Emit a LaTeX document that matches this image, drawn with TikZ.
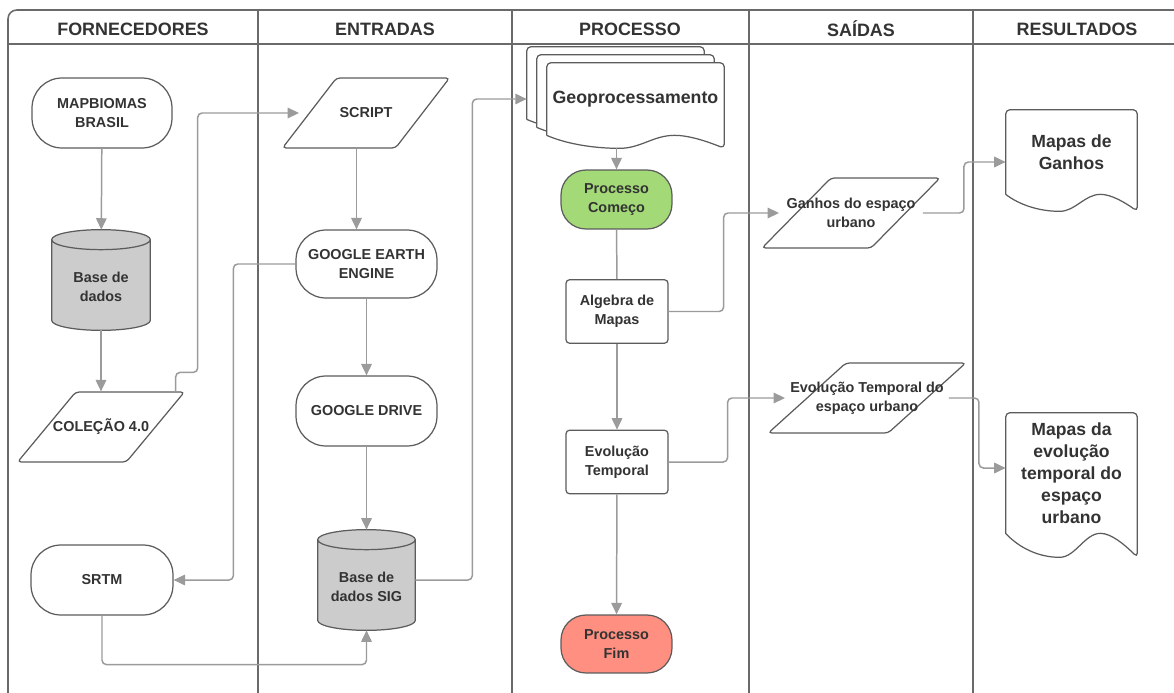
\documentclass[tikz,border=0pt]{standalone}
\usepackage{fontspec}
\setmainfont{Liberation Sans}
\usetikzlibrary{arrows.meta,positioning,shapes.geometric,calc}

\definecolor{lanegray}{HTML}{6A6A6A}
\definecolor{edgegray}{HTML}{5C5C5C}
\definecolor{flowgray}{HTML}{9B9B9B}
\definecolor{txtgray}{HTML}{333333}
\definecolor{dbfill}{HTML}{CCCCCC}
\definecolor{startgreen}{HTML}{A3D977}
\definecolor{endred}{HTML}{FF8F80}

\pgfdeclarelayer{lanes}
\pgfdeclarelayer{frames}
\pgfsetlayers{lanes,frames,main}

\newcommand{\nodefont}{\fontsize{8.2}{10.8}\selectfont\bfseries}
\newcommand{\midtext}[1]{\makebox[0pt]{#1}}
\newcommand{\lowline}[1]{\raisebox{-4pt}[\height][\depth]{#1}}

% document outline with wavy bottom: node, xshift, yshift, wave depth
\newcommand{\docframe}[4]{%
  \draw[shapeline, fill=white, rounded corners=2.5pt]
    let \p1=([xshift=#2,yshift=#3]#1.south west),
        \p2=([xshift=#2,yshift=#3]#1.north east) in
    (\x1,\y1) -- (\x1,\y2) -- (\x2,\y2) -- (\x2,{\y1-#4}) [sharp corners]
    .. controls ({\x2-0.1*(\x2-\x1)},{\y1-0.45*#4}) and ({\x1+0.8*(\x2-\x1)},\y1) .. ({\x1+0.72*(\x2-\x1)},\y1)
    .. controls ({\x1+0.6*(\x2-\x1)},\y1) and ({\x1+0.53*(\x2-\x1)},{\y1-#4}) .. ({\x1+0.41*(\x2-\x1)},{\y1-#4})
    .. controls ({\x1+0.25*(\x2-\x1)},{\y1-#4}) and ({\x1+0.1*(\x2-\x1)},{\y1-0.6*#4}) .. (\x1,\y1);}

% database outline around a node
\newcommand{\cylframe}[1]{%
  \draw[shapeline, fill=dbfill]
    let \p1=(#1.south west), \p2=(#1.north east) in
    (\x1,{\y2-\cyry}) -- (\x1,{\y1+\cyry})
    arc[start angle=180, end angle=360, x radius={(\x2-\x1)/2}, y radius=\cyry]
    -- (\x2,{\y2-\cyry})
    arc[start angle=0, end angle=180, x radius={(\x2-\x1)/2}, y radius=\cyry] -- cycle
    (\x1,{\y2-\cyry})
    arc[start angle=180, end angle=360, x radius={(\x2-\x1)/2}, y radius=\cyry];}

\begin{document}
\begin{tikzpicture}[
  x=0.02cm, y=-0.02cm,
  >={Triangle[length=6.5pt,width=6pt]},
  every node/.style = {text=txtgray},
  lane/.style      = {draw=lanegray, line width=0.9pt},
  head/.style      = {font=\fontsize{10.2}{12}\selectfont\bfseries},
  shapeline/.style = {draw=edgegray, line width=0.7pt},
  term/.style      = {shapeline, fill=white, rounded corners=0.6cm, align=center,
                      minimum width=2.8cm, minimum height=1.4cm, inner sep=2pt, font=\nodefont},
  io/.style        = {trapezium, trapezium left angle=64, trapezium right angle=116,
                      trapezium stretches=true, shapeline, fill=white, rounded corners=2pt,
                      minimum height=1.4cm, align=center, font=\nodefont},
  proc/.style      = {shapeline, fill=white, rounded corners=2pt, align=center,
                      minimum width=2.04cm, minimum height=1.27cm, font=\nodefont},
  dbase/.style     = {minimum width=1.96cm, minimum height=2cm, inner sep=0pt,
                      align=center, font=\nodefont},
  doc/.style       = {inner sep=0pt, align=center, font=\fontsize{10}{12.5}\selectfont\bfseries},
  flow/.style      = {draw=flowgray, line width=0.85pt, rounded corners=2.5pt, ->}
]

% ---- constants ----
\def\cyry{0.2cm}   % half height of the cylinder ellipse

\useasboundingbox (0,0) rectangle (1174,693);

% ---- swimlanes ----
\begin{pgfonlayer}{lanes}
  \draw[lane, rounded corners=5pt] (1174,10) -- (8,10) -- (8,693);
  \draw[lane] (8,44) -- (1174,44);
  \foreach \x in {258,512,749,973}
    \draw[lane] (\x,10) -- (\x,693);
\end{pgfonlayer}

\node[head] (hforn) at (133,29)  {FORNECEDORES};
\node[head] (hentr) at (385,29)  {ENTRADAS};
\node[head] (hproc) at (630,29)  {PROCESSO};
\node[head] (hsaid) at (861,29)  {SAÍDAS};
\node[head] (hresu) at (1077,29) {RESULTADOS};

% ---- fornecedores ----
\node[term] (mapb) at (102,113) {MAPBIOMAS\\BRASIL};
\node[dbase] (bd1) at (101,280) {\lowline{Base de}\\\lowline{dados}};
\node[io, minimum width=3.34cm] (col) at (101,427) {\midtext{COLEÇÃO 4.0}};
\node[term, minimum width=2.84cm] (srtm) at (102,580) {SRTM};

% ---- entradas ----
\node[io, minimum width=3.34cm] (scr) at (366,113) {\midtext{SCRIPT}};
\node[term, minimum width=2.82cm, minimum height=1.36cm] (gee) at (366.5,264) {GOOGLE EARTH\\ENGINE};
\node[term, minimum width=2.82cm] (gdr) at (366.5,411) {GOOGLE DRIVE};
\node[dbase, minimum width=1.94cm] (sig) at (366.5,580) {\lowline{Base de}\\\lowline{dados SIG}};

% ---- processo ----
\node[doc, minimum width=3.54cm, minimum height=1.44cm,
      font=\fontsize{10.1}{12}\selectfont\bfseries] (geo) at (635.5,99) {Geoprocessamento};
\node[term, fill=startgreen, minimum width=2.22cm, minimum height=1.18cm,
      rounded corners=0.5cm] (beg) at (616.5,199.5) {Processo\\Começo};
\node[proc] (alg) at (617,311.5) {Algebra de\\Mapas};
\node[proc] (evo) at (617,462) {Evolução\\Temporal};
\node[term, fill=endred, minimum width=2.22cm, minimum height=1.16cm,
      rounded corners=0.5cm] (fim) at (616.5,644) {Processo\\Fim};

% ---- saidas ----
\node[io, minimum width=3.56cm] (gan) at (851,213) {\midtext{Ganhos do espaço}\\\midtext{urbano}};
\node[io, minimum width=3.96cm] (evs) at (867,398) {\midtext{Evolução Temporal do}\\\midtext{espaço urbano}};

% ---- resultados ----
\node[doc, minimum width=2.62cm, minimum height=1.68cm] (mg) at (1071.5,152) {Mapas de\\Ganhos};
\node[doc, minimum width=2.62cm, minimum height=2.4cm] (me) at (1071.5,473)
  {Mapas da\\evolução\\temporal do\\espaço\\urbano};

% ---- outlines ----
\begin{pgfonlayer}{frames}
  \cylframe{bd1}
  \cylframe{sig}
  \docframe{geo}{-0.4cm}{0.32cm}{0.26cm}
  \docframe{geo}{-0.2cm}{0.16cm}{0.26cm}
  \docframe{geo}{0cm}{0cm}{0.26cm}
  \docframe{mg}{0cm}{0cm}{0.34cm}
  \docframe{me}{0cm}{0cm}{0.48cm}
\end{pgfonlayer}

% ---- connectors ----
\draw[flow] (mapb) -- (bd1);
\draw[flow] (bd1) -- (col);
\draw[flow] ([xshift=-0.2cm]col.top right corner) |- ++(22,-19) |- ([xshift=-1.34cm]scr.center);
\draw[flow] ($(gee.north |- scr.south)+(-10,0)$) -- ($(gee.north)+(-10,0)$);
\draw[flow] (gee.west) -- ++(-62,0) |- (srtm.east);
\draw[flow] (gee) -- (gdr);
\draw[flow] (gdr) -- (sig);
\draw[flow] (srtm.south) -- ++(0,49) -| (sig.south);
\draw[flow] (sig.east) -- ++(57,0) |- ([xshift=-0.4cm]geo.west);

\draw[flow] ($(beg.north |- geo.south)+(0,13)$) -- (beg.north);
\draw[flow, -] (beg) -- (alg);
\draw[flow] (alg) -- (evo);
\draw[flow] (evo) -- (fim);
\draw[flow] (alg.east) -- ++(55,0) |- ([xshift=-1.44cm]gan.center);
\draw[flow] (evo.east) -- ++(59,0) |- ([xshift=-1.64cm]evs.center);

\draw[flow] ([xshift=1.44cm]gan.center) -- ++(41,0) |- ([yshift=-0.2cm]mg.west);
\draw[flow] ([xshift=1.64cm]evs.center) -- ++(30,0) |- ([yshift=0.1cm]me.west);

\end{tikzpicture}
\end{document}
